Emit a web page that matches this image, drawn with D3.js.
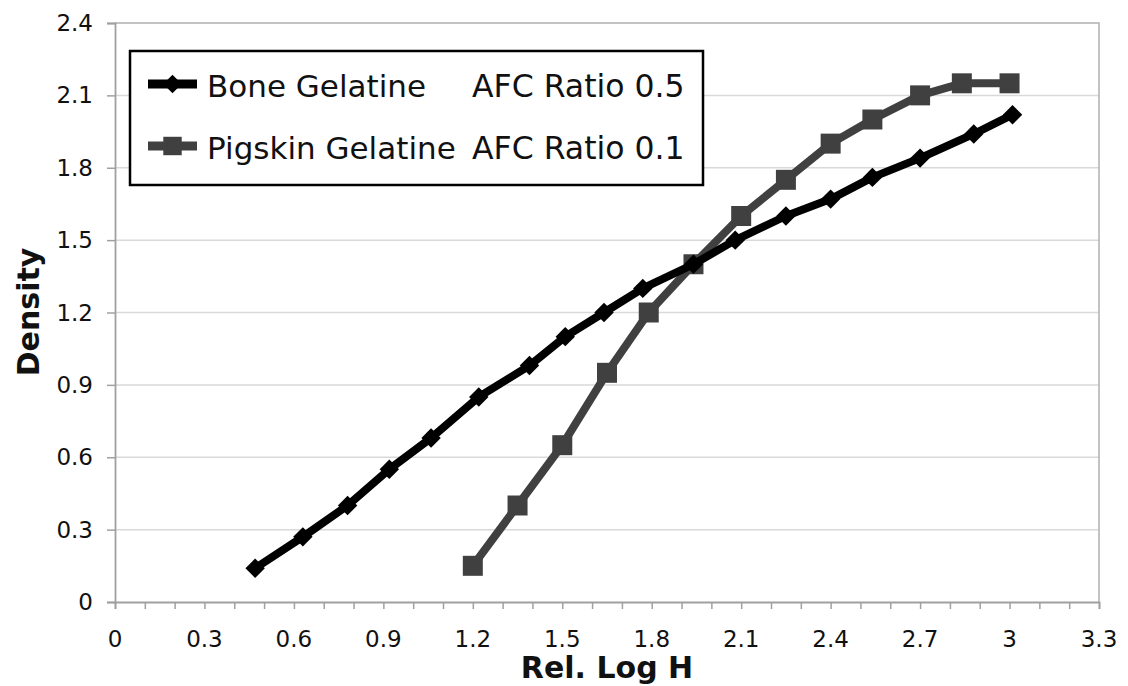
<!DOCTYPE html>
<html>
<head>
<meta charset="utf-8">
<script src="https://cdn.jsdelivr.net/npm/d3@7"></script>
<style>
  html, body { margin: 0; padding: 0; background: #fff; }
  svg { display: block; }
  text { font-family: "DejaVu Sans", Verdana, sans-serif; fill: #111; }
</style>
</head>
<body>
<svg id="chart" width="1128" height="686"></svg>
<script>
// ---- data ----
const boneX = [0.47, 0.63, 0.78, 0.92, 1.06, 1.22, 1.39, 1.51, 1.64, 1.77, 1.94, 2.08, 2.25, 2.40, 2.54, 2.70, 2.88, 3.01];
const boneY = [0.14, 0.27, 0.40, 0.55, 0.68, 0.85, 0.98, 1.10, 1.20, 1.30, 1.40, 1.50, 1.60, 1.67, 1.76, 1.84, 1.94, 2.02];
const pigX  = [1.20, 1.35, 1.50, 1.65, 1.79, 1.94, 2.10, 2.25, 2.40, 2.54, 2.70, 2.84, 3.00];
const pigY  = [0.15, 0.40, 0.65, 0.95, 1.20, 1.40, 1.60, 1.75, 1.90, 2.00, 2.10, 2.15, 2.15];
const xTickLabels = ["0", "0.3", "0.6", "0.9", "1.2", "1.5", "1.8", "2.1", "2.4", "2.7", "3", "3.3"];
const yTickLabels = ["0", "0.3", "0.6", "0.9", "1.2", "1.5", "1.8", "2.1", "2.4"];
const seriesNames = ["Bone Gelatine", "Pigskin Gelatine"];
const seriesNotes = ["AFC Ratio 0.5", "AFC Ratio 0.1"];
const xTitle = "Rel. Log H";
const yTitle = "Density";

// ---- layout ----
const svg = d3.select("#chart");
const L = 115, R = 1099, T = 23, B = 602;
const x = d3.scaleLinear().domain([0, 3.3]).range([L, R]);
const y = d3.scaleLinear().domain([0, 2.4]).range([B, T]);

const xMajor = xTickLabels.map(Number);
const yMajor = yTickLabels.map(Number);
const xMinor = d3.range(0, 34).map(i => i / 10);

// gridlines
svg.append("g").selectAll("line").data(yMajor.slice(1, -1)).join("line")
  .attr("x1", L).attr("x2", R)
  .attr("y1", d => y(d)).attr("y2", d => y(d))
  .attr("stroke", "#d9d9d9").attr("stroke-width", 1.5);

// plot border (top, right)
svg.append("path")
  .attr("d", `M${L},${y(2.4)}H${R}V${B}`)
  .attr("fill", "none").attr("stroke", "#b0b0b0").attr("stroke-width", 1.5);

// x axis
const xAxis = d3.axisBottom(x).tickValues(xMinor).tickSize(7).tickFormat("");
const gx = svg.append("g").attr("transform", `translate(0,${B})`).call(xAxis);
gx.select(".domain").attr("stroke", "#a0a0a0").attr("stroke-width", 1.8);
gx.selectAll(".tick line").attr("stroke", "#a0a0a0").attr("stroke-width", 1.5);
svg.append("g").selectAll("text").data(xMajor).join("text")
  .attr("x", d => x(d)).attr("y", 647)
  .attr("text-anchor", "middle").attr("font-size", 23)
  .text((d, i) => xTickLabels[i]);

// y axis
const yAxis = d3.axisLeft(y).tickValues(yMajor).tickSize(8).tickFormat("");
const gy = svg.append("g").attr("transform", `translate(${L},0)`).call(yAxis);
gy.select(".domain").attr("stroke", "#a0a0a0").attr("stroke-width", 1.8);
gy.selectAll(".tick line").attr("stroke", "#a0a0a0").attr("stroke-width", 1.5);
svg.append("g").selectAll("text").data(yMajor).join("text")
  .attr("x", 93).attr("y", d => y(d) + 8)
  .attr("text-anchor", "end").attr("font-size", 23)
  .text((d, i) => yTickLabels[i]);

// axis titles
svg.append("text").attr("x", 607).attr("y", 678)
  .attr("text-anchor", "middle").attr("font-size", 30).attr("font-weight", "bold")
  .attr("fill", "#000").text(xTitle);
svg.append("text").attr("transform", "translate(39,312) rotate(-90)")
  .attr("text-anchor", "middle").attr("font-size", 30).attr("font-weight", "bold")
  .attr("fill", "#000").text(yTitle);

// series
const colors = ["#000000", "#404040"];
const bone = boneX.map((v, i) => [v, boneY[i]]);
const pig = pigX.map((v, i) => [v, pigY[i]]);
const line = d3.line().x(d => x(d[0])).y(d => y(d[1]));

const diamond = d3.symbol().type(d3.symbolDiamond2 || d3.symbolDiamond).size(240);
const square = d3.symbol().type(d3.symbolSquare).size(400);
const diamondL = d3.symbol().type(d3.symbolDiamond2 || d3.symbolDiamond).size(220);
const squareL = d3.symbol().type(d3.symbolSquare).size(340);

function drawSeries(data, color, sym) {
  svg.append("path").datum(data).attr("d", line)
    .attr("fill", "none").attr("stroke", color).attr("stroke-width", 8)
    .attr("stroke-linejoin", "round");
  svg.append("g").selectAll("path").data(data).join("path")
    .attr("transform", d => `translate(${x(d[0])},${y(d[1])})`)
    .attr("d", sym).attr("fill", color);
}
drawSeries(pig, colors[1], square);
drawSeries(bone, colors[0], diamond);

// legend
const lg = svg.append("g");
lg.append("rect").attr("x", 130).attr("y", 51).attr("width", 573).attr("height", 134)
  .attr("fill", "#fff").attr("stroke", "#000").attr("stroke-width", 2.5);
const rows = [84, 146];
const syms = [diamondL, squareL];
rows.forEach((ry, i) => {
  lg.append("line").attr("x1", 148).attr("x2", 197).attr("y1", ry).attr("y2", ry)
    .attr("stroke", colors[i]).attr("stroke-width", 9);
  lg.append("path").attr("transform", `translate(172.5,${ry})`).attr("d", syms[i]).attr("fill", colors[i]);
  lg.append("text").attr("x", 207).attr("y", ry + 13).attr("font-size", 31).text(seriesNames[i]);
  lg.append("text").attr("x", 472).attr("y", ry + 13).attr("font-size", 31.5).text(seriesNotes[i]);
});
</script>
</body>
</html>
